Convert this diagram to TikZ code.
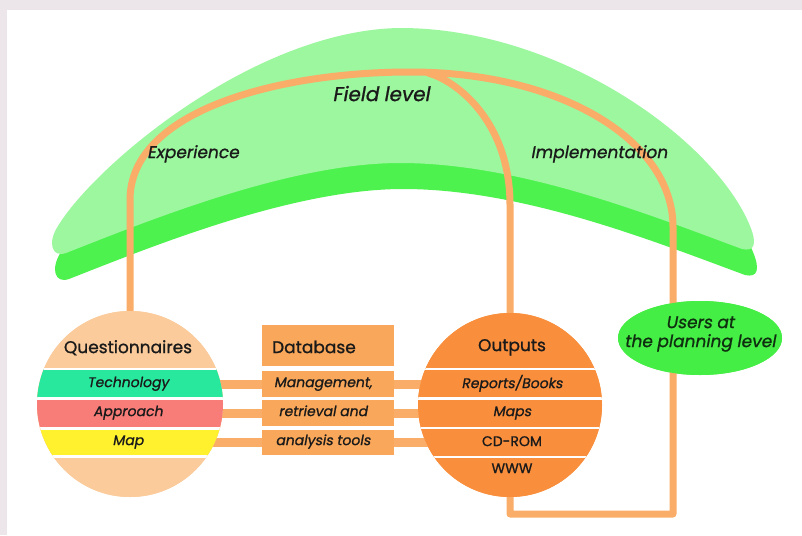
\documentclass[tikz,border=0pt]{standalone}
\usepackage{fontspec}
\setmainfont{Poppins}[FakeBold=1]
\newfontfamily\upf{Poppins}[FakeBold=1]
\newfontfamily\slf{Poppins}[FakeSlant=0.18,FakeBold=1]
\usetikzlibrary{shapes.geometric}
\definecolor{bggray}{HTML}{ECE6EA}
\definecolor{lgreen}{HTML}{9CF79F}
\definecolor{dgreen}{HTML}{4EF24E}
\definecolor{lor}{HTML}{FAAD68}
\definecolor{peach}{HTML}{FBCB9B}
\definecolor{dbor}{HTML}{F9A75A}
\definecolor{outor}{HTML}{F98F3D}
\definecolor{teal}{HTML}{28E89E}
\definecolor{salmon}{HTML}{F87C78}
\definecolor{yel}{HTML}{FFF12E}
\definecolor{ugreen}{HTML}{45EE45}
\definecolor{txt}{HTML}{1A1A1A}
\definecolor{utxt}{HTML}{0F2E10}
\begin{document}
\begin{tikzpicture}[x=1pt,y=-1pt,
  oline/.style={draw=lor,line width=7pt,line join=round},
  bar/.style={draw=lor,line width=9pt},
  sep/.style={draw=white,line width=2.5pt},
  lbl/.style={text=txt,inner sep=0pt,text height=0.62em,text depth=0pt},
  big/.style={lbl,font=\upf\fontsize{17}{20}\selectfont},
  small/.style={lbl,font=\slf\fontsize{14}{16}\selectfont},
  smallup/.style={lbl,font=\upf\fontsize{14}{16}\selectfont},
  field/.style={lbl,font=\slf\fontsize{17}{20}\selectfont},
  rowbox/.style={fill=dbor,minimum width=132pt,inner sep=0pt}
]
\useasboundingbox (0,0) rectangle (802,535);
\fill[bggray] (0,0) rectangle (802,535);
\fill[white] (7,10) rectangle (802,535);

% boomerang
\def\boom{(58,226) .. controls (95,165) and (255,30) .. (400,28)
  .. controls (560,28) and (715,140) .. (750,226)
  .. controls (757,243) and (755,252) .. (742,249)
  .. controls (650,215) and (520,163) .. (400,163)
  .. controls (290,163) and (150,220) .. (66,253)
  .. controls (52,258) and (47,243) .. (58,226) -- cycle}
\begin{scope}[shift={(3,26)}]
\fill[dgreen] \boom;
\end{scope}
\fill[lgreen] \boom;

% nodes
\node[circle,fill=peach,minimum size=186pt,inner sep=0pt] (q) at (130,404) {};
\node[circle,fill=outor,minimum size=184pt,inner sep=0pt] (o) at (510,405) {};
\node[ellipse,fill=ugreen,minimum width=164pt,minimum height=74pt,inner sep=0pt] (u) at (700,338) {};
\node[fill=dbor,minimum width=132pt,minimum height=41pt,inner sep=0pt] (db) at (328,345.5) {};
\node[rowbox,minimum height=26pt] (m1) at (328,384) {};
\node[rowbox,minimum height=26pt] (m2) at (328,413) {};
\node[rowbox,minimum height=25pt] (m3) at (328,442.5) {};

% orange connectors (behind circles and ellipse)
\coordinate (c1) at (130,200);
\coordinate (top) at (410,72);
\coordinate (c2) at (673,227);
\coordinate (c3) at (673,514);
\coordinate (c4) at (510,514);
\coordinate (br) at (428,73);
\coordinate (c5) at (510,205);
\draw[oline] (q.north) -- (c1) .. controls (130,110) and (280,72) .. (top)
  .. controls (560,72) and (673,140) .. (c2) -- (c3) -- (c4) -- (o.south);
\draw[oline] (br) .. controls (455,80) and (510,120) .. (c5) -- (o.north);
\draw[bar] (q.center |- m1.west) -- (m1.west);
\draw[bar] (q.center |- m2.west) -- (m2.west);
\draw[bar] (q.center |- m3.west) -- (m3.west);
\draw[bar] (m1.east) -- (o.center |- m1.east);
\draw[bar] (m2.east) -- (o.center |- m2.east);
\draw[bar] (m3.east) -- (o.center |- m3.east);

% redraw shapes on top of connectors
\fill[peach] (q.center) circle (93pt);
\begin{scope}
\clip (q.center) circle (93pt);
\fill[teal] (0,369) rectangle (300,398.5);
\fill[salmon] (0,398.5) rectangle (300,428.5);
\fill[yel] (0,428.5) rectangle (300,456.5);
\draw[sep] (0,369) -- (300,369);
\draw[sep] (0,398.5) -- (300,398.5);
\draw[sep] (0,428.5) -- (300,428.5);
\draw[sep] (0,456.5) -- (300,456.5);
\end{scope}
\fill[outor] (o.center) circle (92pt);
\begin{scope}
\clip (o.center) circle (92pt);
\draw[sep] (400,369) -- (620,369);
\draw[sep] (400,398.5) -- (620,398.5);
\draw[sep] (400,428) -- (620,428);
\draw[sep] (400,457) -- (620,457);
\end{scope}
\fill[ugreen] (u.center) ellipse (82pt and 37pt);
\fill[dbor] (db.north west) rectangle (db.south east);
\foreach \m in {m1,m2,m3} {\fill[dbor] (\m.north west) rectangle (\m.south east);}

% texts
\node[lbl,font=\slf\fontsize{20}{22}\selectfont] (fl) at (381,98) {Field level};
\node[field] (ex) at (193,155) {Experience};
\node[field] (im) at (599,155) {Implementation};
\node[big] (qt) at (128,350) {Questionnaires};
\node[small] (t1) at (128,384) {Technology};
\node[small] (t2) at (128,413) {Approach};
\node[small] (t3) at (128,442) {Map};
\node[big,anchor=west] (dbt) at (272,350) {Database};
\node[small] (m1t) at (323,384) {Management,};
\node[small] (m2t) at (323,413) {retrieval and};
\node[small] (m3t) at (323,442) {analysis tools};
\node[big] (ot) at (512,348) {Outputs};
\node[small] (o1) at (512,385) {Reports/Books};
\node[small] (o2) at (512,413) {Maps};
\node[smallup] (o3) at (512,443) {CD-ROM};
\node[smallup] (o4) at (512,470) {WWW};
\node[lbl,text=utxt,font=\slf\fontsize{17}{20}\selectfont] (u1) at (700,325) {Users at};
\node[lbl,text=utxt,font=\slf\fontsize{17}{20}\selectfont] (u2) at (700,344) {the planning level};
\end{tikzpicture}
\end{document}
